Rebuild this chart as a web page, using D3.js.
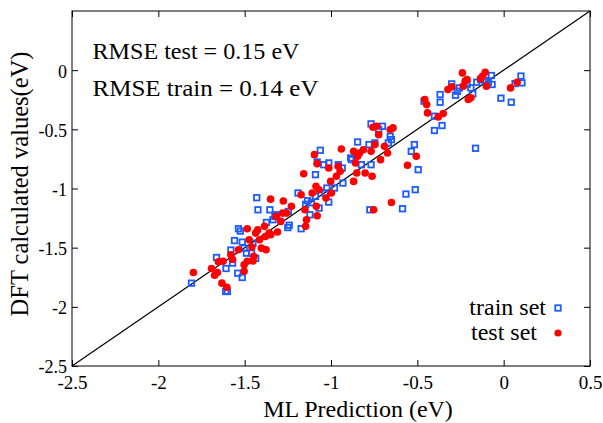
<!DOCTYPE html>
<html><head><meta charset="utf-8">
<script src="https://cdn.jsdelivr.net/npm/d3@7"></script>
<style>body{margin:0;background:#fff}svg{display:block}text{font-family:"Liberation Serif","Times New Roman",serif;fill:#000}</style>
</head><body>
<svg id="c" width="603" height="423"></svg>
<script>
const xTicks = [-2.5, -2, -1.5, -1, -0.5, 0, 0.5];
const yTicks = [-2.5, -2, -1.5, -1, -0.5, 0];
const xTickLabels = ["-2.5", "-2", "-1.5", "-1", "-0.5", "0", "0.5"];
const yTickLabels = ["-2.5", "-2", "-1.5", "-1", "-0.5", "0"];
const annotations = ["RMSE test = 0.15 eV", "RMSE train = 0.14 eV"];
const legendLabels = ["train set", "test set"];

const trainX = [-1.808,-1.61,-1.60,-1.663,-1.608,-1.57,-1.54,-1.514,-1.536,-1.525,-1.559,-1.58,-1.514,-1.49,-1.503,-1.452,-1.43,-1.423,-1.436,-1.46,-1.374,-1.354,-1.336,-1.325,-1.314,-1.247,-1.25,-1.242,-1.191,-1.173,-1.147,-1.136,-1.122,-1.113,-1.09,-1.08,-1.062,-1.09,-1.069,-1.042,-1.035,-1.024,-1.013,-1.013,-0.98,-0.958,-0.935,-0.931,-0.886,-0.88,-0.846,-0.824,-0.78,-0.768,-0.768,-0.746,-0.724,-0.702,-0.668,-0.657,-0.65,-0.775,-0.586,-0.566,-0.535,-0.517,-0.512,-0.495,-0.461,-0.401,-0.401,-0.368,-0.368,-0.357,-0.301,-0.279,-0.268,-0.257,-0.212,-0.19,-0.179,-0.163,-0.156,-0.134,-0.107,-0.089,-0.071,-0.067,-0.016,0.044,0.066,0.1,0.106];
const trainY = [-1.80,-1.87,-1.87,-1.583,-1.676,-1.63,-1.716,-1.752,-1.34,-1.36,-1.44,-1.52,-1.453,-1.546,-1.504,-1.462,-1.078,-1.18,-1.59,-1.546,-1.287,-1.18,-1.264,-1.236,-1.222,-1.194,-1.33,-1.31,-1.038,-1.34,-1.134,-1.103,-1.222,-1.12,-0.883,-0.776,-0.677,-1.067,-1.165,-0.799,-1.038,-0.996,-0.784,-1.115,-0.996,-0.799,-0.827,-0.954,-0.742,-0.756,-0.607,-0.799,-0.629,-0.454,-0.799,-0.615,-0.502,-0.474,-0.615,-0.559,-0.587,-1.18,-1.171,-1.047,-0.686,-0.629,-1.01,-0.841,-0.262,-0.389,-0.51,-0.206,-0.271,-0.468,-0.116,-0.212,-0.178,-0.15,-0.121,-0.15,-0.2,-0.66,-0.102,-0.079,-0.087,-0.102,-0.045,-0.121,-0.237,-0.271,-0.113,-0.05,-0.107];

const testX = [-1.797,-1.692,-1.674,-1.658,-1.652,-1.632,-1.603,-1.625,-1.58,-1.57,-1.536,-1.503,-1.503,-1.485,-1.485,-1.474,-1.458,-1.452,-1.447,-1.436,-1.425,-1.414,-1.403,-1.385,-1.38,-1.376,-1.358,-1.35,-1.349,-1.318,-1.31,-1.291,-1.28,-1.276,-1.258,-1.229,-1.158,-1.173,-1.151,-1.147,-1.142,-1.109,-1.096,-1.087,-1.085,-1.08,-1.08,-1.069,-1.029,-1.013,-1.002,-0.998,-0.969,-0.958,-0.947,-0.94,-0.869,-0.869,-0.858,-0.851,-0.846,-0.835,-0.813,-0.802,-0.768,-0.762,-0.753,-0.757,-0.746,-0.735,-0.724,-0.713,-0.69,-0.673,-0.65,-0.657,-0.641,-0.557,-0.506,-0.457,-0.446,-0.441,-0.379,-0.35,-0.323,-0.301,-0.239,-0.234,-0.223,-0.212,-0.205,-0.19,-0.134,-0.123,-0.107,-0.1,0.04,0.078];
const testY = [-1.71,-1.676,-1.733,-1.71,-1.62,-1.80,-1.834,-1.615,-1.56,-1.60,-1.518,-1.645,-1.70,-1.34,-1.615,-1.433,-1.495,-1.612,-1.574,-1.377,-1.35,-1.433,-1.504,-1.32,-1.405,-1.518,-1.377,-1.09,-1.39,-1.236,-1.368,-1.278,-1.208,-1.106,-1.208,-1.151,-0.875,-1.053,-1.18,-1.32,-1.264,-1.038,-0.714,-0.982,-1.151,-1.23,-0.79,-1.01,-1.08,-0.827,-0.94,-1.038,-0.897,-0.813,-0.855,-0.666,-0.94,-0.686,-0.784,-0.869,-0.728,-0.70,-0.672,-0.869,-0.686,-0.897,-1.18,-0.483,-0.629,-0.474,-0.545,-0.756,-0.643,-0.70,-1.118,-0.502,-0.488,-0.804,-0.728,-0.248,-0.291,-0.361,-0.395,-0.367,-0.164,-0.141,-0.023,-0.135,-0.093,-0.079,-0.248,-0.234,-0.073,-0.051,-0.017,-0.135,-0.15,-0.102];

const svg = d3.select("#c");
const L = 72, R = 590, T = 11, B = 366;
const x = d3.scaleLinear().domain([-2.5, 0.5]).range([L, R]);
const y = d3.scaleLinear().domain([-2.5, 0.5]).range([B, T]);
const blue = "#1c5cff", red = "#ff0000";

const tk = 6;
svg.append("g").attr("transform", `translate(0,${B})`)
  .call(d3.axisBottom(x).tickValues(xTicks).tickSize(-tk).tickFormat((d,i)=>xTickLabels[i]))
  .call(g=>{g.select(".domain").remove();g.selectAll("line").attr("stroke","#000");
    g.selectAll("text").attr("font-size",19).attr("dy",null).attr("y",23);});
svg.append("g").attr("transform", `translate(0,${T})`)
  .call(d3.axisTop(x).tickValues(xTicks).tickSize(-tk).tickFormat(""))
  .call(g=>{g.select(".domain").remove();g.selectAll("line").attr("stroke","#000");});
svg.append("g").attr("transform", `translate(${L},0)`)
  .call(d3.axisLeft(y).tickValues(yTicks).tickSize(-tk).tickFormat((d,i)=>yTickLabels[i]))
  .call(g=>{g.select(".domain").remove();g.selectAll("line").attr("stroke","#000");
    g.selectAll("text").attr("font-size",18).attr("x",-5).attr("dy","0.38em");});
svg.append("g").attr("transform", `translate(${R},0)`)
  .call(d3.axisRight(y).tickValues(yTicks).tickSize(-tk).tickFormat(""))
  .call(g=>{g.select(".domain").remove();g.selectAll("line").attr("stroke","#000");});

svg.append("rect").attr("x",L).attr("y",T).attr("width",R-L).attr("height",B-T)
  .attr("fill","none").attr("stroke","#000").attr("stroke-width",1);

svg.append("line").attr("x1",x(-2.5)).attr("y1",y(-2.5)).attr("x2",x(0.5)).attr("y2",y(0.5))
  .attr("stroke","#000").attr("stroke-width",1.2);

const s = 5.5;
svg.append("g").selectAll("rect").data(trainX.map((v,i)=>[v,trainY[i]])).join("rect")
  .attr("x",d=>x(d[0])-s/2).attr("y",d=>y(d[1])-s/2).attr("width",s).attr("height",s)
  .attr("fill","none").attr("stroke",blue).attr("stroke-width",1.8);
svg.append("g").selectAll("circle").data(testX.map((v,i)=>[v,testY[i]])).join("circle")
  .attr("cx",d=>x(d[0])).attr("cy",d=>y(d[1])).attr("r",3.8).attr("fill",red);

svg.append("text").attr("x",92.5).attr("y",59).attr("font-size",23)
  .attr("textLength",207).attr("lengthAdjust","spacingAndGlyphs").text(annotations[0]);
svg.append("text").attr("x",92.5).attr("y",96).attr("font-size",23)
  .attr("textLength",226).attr("lengthAdjust","spacingAndGlyphs").text(annotations[1]);

svg.append("text").attr("x",546).attr("y",315).attr("text-anchor","end").attr("font-size",24).text(legendLabels[0]);
svg.append("text").attr("x",537).attr("y",340).attr("text-anchor","end").attr("font-size",24).text(legendLabels[1]);
svg.append("rect").attr("x",558-s/2).attr("y",308-s/2).attr("width",s).attr("height",s)
  .attr("fill","none").attr("stroke",blue).attr("stroke-width",1.8);
svg.append("circle").attr("cx",558).attr("cy",333).attr("r",3.6).attr("fill",red);

svg.append("text").attr("x",358).attr("y",417).attr("text-anchor","middle").attr("font-size",24).text("ML Prediction (eV)");
svg.append("text").attr("transform",`translate(28,184) rotate(-90)`).attr("text-anchor","middle").attr("font-size",24.5).text("DFT calculated values(eV)");
</script>
</body></html>
